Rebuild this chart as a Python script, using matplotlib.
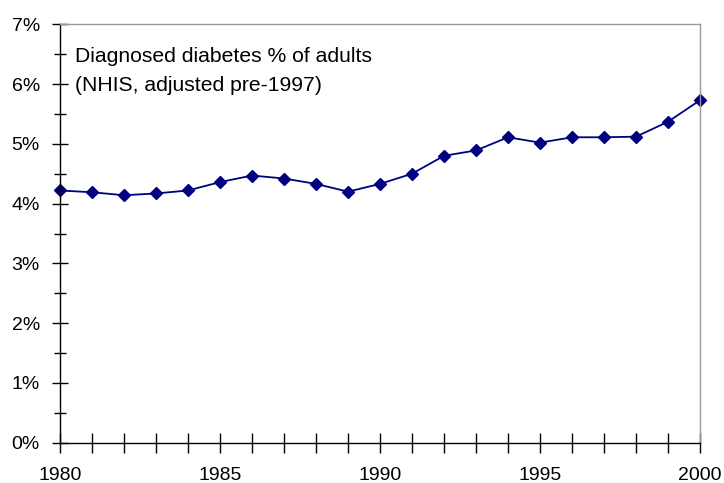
import numpy as np
import matplotlib.pyplot as plt
from matplotlib.ticker import MultipleLocator, FuncFormatter

plt.rcParams['font.family'] = ['Liberation Sans', 'DejaVu Sans']

# Diagnosed diabetes, % of adults
years = list(range(1980, 2001))
pct = [4.22, 4.19, 4.14, 4.17, 4.22, 4.36, 4.47, 4.42, 4.33, 4.20,
       4.33, 4.50, 4.80, 4.89, 5.11, 5.02, 5.11, 5.11, 5.12, 5.37, 5.73]
note_lines = ['Diagnosed diabetes % of adults', '(NHIS, adjusted pre-1997)']

fig = plt.figure(figsize=(7.24, 4.83), dpi=100)
ax = fig.add_axes([0.0829, 0.0834, 0.8840, 0.8663])

ax.plot(years, pct, color='#000080', lw=1.3, marker='D', ms=6.5,
        markerfacecolor='#000080', markeredgecolor='#000080', clip_on=False)

ax.set_xlim(1980, 2000)
ax.set_ylim(0, 7)

ax.xaxis.set_major_locator(MultipleLocator(5))
ax.xaxis.set_minor_locator(MultipleLocator(1))
ax.yaxis.set_major_locator(MultipleLocator(1))
ax.yaxis.set_minor_locator(MultipleLocator(0.5))
ax.yaxis.set_major_formatter(FuncFormatter(lambda v, p: '%d%%' % round(v)))

ax.tick_params(axis='x', which='both', direction='inout', length=14, width=1,
               labelsize=14, pad=10.5)
ax.tick_params(axis='y', which='major', direction='inout', length=12, width=1,
               labelsize=14, pad=8.5)
ax.tick_params(axis='y', which='minor', direction='inout', length=8, width=1)

for s in ['top', 'right']:
    ax.spines[s].set_color('#999999')
    ax.spines[s].set_linewidth(1)
for s in ['left', 'bottom']:
    ax.spines[s].set_color('black')
    ax.spines[s].set_linewidth(1)

# two-line note, baseline placed per line
for i, (txt, yb) in enumerate(zip(note_lines, [0.9106, 0.8406])):
    ax.text(0.0234, yb, txt, transform=ax.transAxes, fontsize=15.2,
            va='baseline', ha='left')

fig.savefig('out.png', dpi=100)
